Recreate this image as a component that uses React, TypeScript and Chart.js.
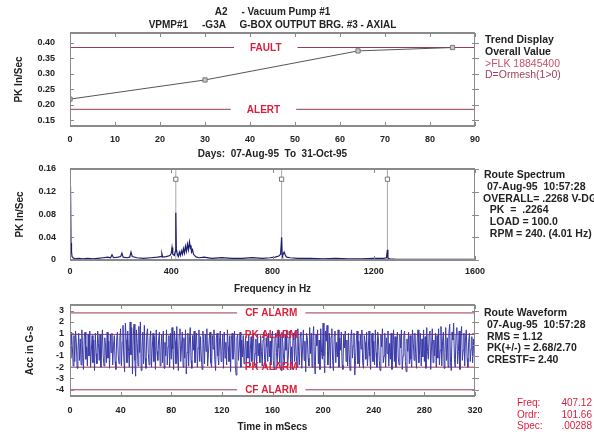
import React, { useEffect, useRef } from "react";
import { Chart, registerables } from "chart.js";

Chart.register(...registerables);

// ---------- Panel 1: trend ----------
const trendDays = [0, 30, 64, 85];
const trendValues = [0.218, 0.28, 0.374, 0.385];
const trendFault = 0.385;
const trendAlert = 0.185;
const trendXTicks = [0, 10, 20, 30, 40, 50, 60, 70, 80, 90];
const trendYTicks = [0.15, 0.2, 0.25, 0.3, 0.35, 0.4];

// ---------- Panel 2: spectrum ----------
const specFreq = [
  0, 2, 4, 6, 8, 12, 20, 35, 50, 70, 90, 110, 130, 150, 160, 166, 172, 190, 200, 205,
  210, 225, 236, 241, 246, 265, 290, 320, 345, 360, 363, 366, 380, 395, 400, 403, 406, 412, 416, 418,
  420, 424, 428, 432, 436, 440, 444, 448, 452, 456, 460, 464, 468, 472, 476, 478, 480, 484, 488, 492,
  496, 500, 510, 530, 560, 600, 640, 680, 720, 760, 790, 810, 825, 832, 836, 838, 840, 846, 852, 856,
  870, 900, 950, 1000, 1050, 1100, 1150, 1200, 1240, 1250, 1254, 1256, 1258, 1262, 1290, 1350, 1400, 1450, 1500, 1550,
  1600,
];
const specAmp = [
  0.02, 0.13, 0.03, 0.015, 0.006, 0.004, 0.002, 0.003, 0.002, 0.003, 0.002, 0.003, 0.004, 0.005, 0.004, 0.009, 0.004, 0.005, 0.006, 0.012,
  0.005, 0.004, 0.005, 0.014, 0.006, 0.004, 0.003, 0.004, 0.005, 0.006, 0.011, 0.005, 0.006, 0.008, 0.012, 0.022, 0.01, 0.008, 0.015, 0.083,
  0.02, 0.01, 0.006, 0.014, 0.008, 0.016, 0.01, 0.02, 0.012, 0.024, 0.015, 0.028, 0.018, 0.032, 0.02, 0.026, 0.014, 0.018, 0.01, 0.008,
  0.006, 0.005, 0.004, 0.005, 0.003, 0.004, 0.003, 0.003, 0.004, 0.003, 0.004, 0.005, 0.007, 0.01, 0.04, 0.012, 0.008, 0.014, 0.007, 0.005,
  0.004, 0.003, 0.003, 0.002, 0.003, 0.002, 0.002, 0.003, 0.003, 0.004, 0.018, 0.004, 0.003, 0.002, 0.001, 0.001, 0.001, 0.001, 0.001, 0.001,
  0.001,
];
const harmFreq = [418, 836, 1254];
const harmMarkerLevel = 0.142;
const specXTicks = [0, 400, 800, 1200, 1600];
const specYTicks = [0, 0.04, 0.08, 0.12, 0.16];

// ---------- Panel 3: waveform (sample every 0.625 ms) ----------
const waveStepMs = 0.625;
const waveValues = [
  0.6, -1.2, 1.1, -0.3, -1.9, 0.8, -1.5, 1.2, 0.2, -2.1, -0.6, 1.0, -1.4, 0.5, -1.8, 1.3,
  -0.9, -2.2, 0.7, 1.1, -1.3, -0.2, -1.9, 0.9, -1.0, 1.2, -2.0, -0.5, 0.8, -1.6, 0.4, -2.3,
  1.0, -0.8, -1.7, 1.2, 0.1, -1.4, 0.9, -2.0, -0.4, 1.3, -1.1, -1.9, 0.6, -0.2, -1.6, 1.1,
  -1.2, 0.3, -2.1, 0.9, -0.7, 1.0, -1.8, -0.1, 0.8, -1.5, -2.2, 0.5, 1.1, -1.0, -1.7, 0.6,
  1.4, -1.9, 0.2, 1.7, -1.2, -2.4, 1.9, 0.4, -1.6, 1.2, -0.6, -2.0, 2.0, -0.9, 1.5, -2.6,
  0.8, 1.8, -1.4, -2.8, 1.3, 0.1, -1.9, 1.6, -0.7, 2.0, -2.3, -0.4, 1.1, -1.7, 1.7, -1.2,
  -2.1, 0.9, 1.4, -0.8, -1.8, 0.5, 1.2, -2.0, -0.3, 1.0, -1.5, 0.7, -2.2, 1.3, -0.6, -1.4,
  0.4, 1.1, -1.9, -0.5, 0.9, -1.6, 1.2, -2.1, 0.2, -1.0, 1.3, -1.8, -0.2, 0.8, -2.0, 1.0,
  -1.3, 1.5, -0.4, -2.2, 1.2, 0.3, -1.7, 1.6, -1.0, -2.3, 0.9, 1.4, -1.5, -0.1, 1.1, -2.0,
  0.6, -1.2, 1.3, -2.6, -0.7, 1.0, -1.9, 0.4, 1.5, -1.4, -2.1, 0.8, -0.5, 1.2, -1.6, 0.2,
  1.0, -2.0, -0.3, 1.3, -1.5, 0.7, -1.1, -2.2, 1.2, 0.1, -1.7, 0.9, -0.6, 1.4, -1.9, -0.8,
  0.5, 1.1, -1.6, -2.0, 0.8, -0.4, 1.3, -1.3, -2.3, 0.6, 1.0, -1.0, -1.8, 0.3, 1.2, -1.5,
  -0.6, 0.9, -2.1, 1.1, -1.2, 0.2, -1.8, 1.3, -0.2, -1.5, 0.8, -2.4, 0.5, 1.0, -1.3, -0.7,
  1.2, -1.9, -2.7, 0.6, 0.9, -1.4, -0.3, 1.1, -2.0, 0.4, -1.1, 0.8, -1.7, -0.5, 0.7, -1.6,
  0.3, -1.2, 0.9, -2.0, -0.4, 0.7, -1.5, 0.2, 1.0, -1.8, -0.8, 0.5, -2.1, 0.9, -1.0, 0.1,
  -1.6, 0.8, -0.6, -1.9, 0.4, 1.1, -1.3, -2.0, 0.6, -0.2, -1.5, 1.0, -1.1, 0.3, -1.8, 0.7,
  1.2, -1.4, -2.2, 0.5, 1.0, -0.7, -1.9, 1.3, -0.3, -1.6, 0.8, -2.3, 1.1, 0.2, -1.2, -1.8,
  0.9, -0.5, 1.3, -2.0, -1.1, 0.6, 1.2, -1.7, -0.2, -2.2, 1.0, 0.4, -1.5, 1.2, -0.9, -2.0,
  1.4, -0.6, -1.8, 0.8, 1.1, -2.1, -0.4, 1.3, -1.4, 0.3, -2.4, 1.0, 0.6, -1.2, -1.9, 1.5,
  -0.8, 1.0, -2.0, 0.5, 1.6, -1.5, -2.6, 0.9, -0.1, 1.3, -1.7, 0.4, -2.2, 1.4, -0.7, -1.3,
  1.9, -1.0, -2.5, 1.2, 0.3, 1.7, -1.8, -0.6, 1.0, -2.1, 0.7, 1.4, -1.4, -2.3, 0.8, 1.2,
  -1.6, 0.2, -1.1, 1.3, -2.0, 0.6, -0.5, 1.1, -1.8, -2.2, 0.9, -0.3, 1.2, -1.5, 0.4, -1.9,
  1.0, -0.9, -2.3, 0.7, 1.3, -1.2, -0.1, 1.0, -2.7, -1.4, 0.5, 1.2, -1.7, 0.3, -2.0, 0.9,
  -0.4, 1.3, -1.6, -2.1, 0.8, 0.2, -1.3, 1.1, -1.9, -0.6, 1.2, -1.0, -2.2, 0.6, 1.0, -1.5,
  0.3, -1.8, 1.3, -0.7, -2.0, 1.1, 0.4, -1.4, -2.3, 0.9, -0.2, 1.4, -1.6, -1.0, 1.0, -2.0,
  0.6, -0.8, 1.2, -1.9, 0.1, -1.3, 1.0, -2.2, -0.5, 1.3, -1.5, 0.7, -2.0, 0.4, 1.1, -1.2,
  -1.8, 0.9, -0.3, 1.3, -2.2, -1.0, 0.8, 1.2, -1.5, -2.4, 0.5, -0.6, 1.1, -1.7, 0.8, -1.3,
  -2.0, 1.3, 0.2, -1.4, 1.0, -0.8, -2.1, 0.6, 1.3, -1.6, -0.4, 1.0, -1.9, 0.5, -1.1, 1.3,
  -1.5, 0.7, -2.1, 1.5, -0.6, -1.3, 0.9, 1.2, -2.2, -0.2, 1.4, -1.6, 0.4, -1.0, 1.0, -2.0,
  0.8, -1.2, 1.4, -1.8, -0.5, 1.6, -1.9, 0.3, 1.1, -2.1, -0.7, 1.5, -1.4, 0.6, -2.0, 1.0,
  1.8, -1.6, -2.3, 1.1, 0.4, 1.9, -1.3, -2.0, 0.9, 1.5, -1.7, -0.6, 1.2, -2.2, 0.7, 1.6,
  -1.4, -0.5, 1.0, -1.9, 0.6, 1.3, -1.2, -2.0, 0.3, 1.0, -1.5, -0.4, 0.7, -1.6, 0.5, -1.0,
];
const waveCfHigh = 2.8;
const wavePkHigh = 0.9;
const wavePkLow = -2.0;
const waveCfLow = -4.0;
const waveXTicks = [0, 40, 80, 120, 160, 200, 240, 280, 320];
const waveYTicks = [3, 2, 1, 0, -1, -2, -3, -4];

// ---------- Text ----------
const titleLines = ["A2     - Vacuum Pump #1", "VPMP#1     -G3A     G-BOX OUTPUT BRG. #3 - AXIAL"];
const trendNotes = ["Trend Display", "Overall Value"];
const trendNotesRed = [">FLK 18845400", "D=Ormesh(1>0)"];
const specNotes = ["Route Spectrum", " 07-Aug-95  10:57:28", "OVERALL= .2268 V-DG", "  PK  =  .2264", "  LOAD = 100.0", "  RPM = 240. (4.01 Hz)"];
const waveNotes = ["Route Waveform", " 07-Aug-95  10:57:28", " RMS = 1.12", " PK(+/-) = 2.68/2.70", " CRESTF= 2.40"];
const cursorLabels = ["Freq:", "Ordr:", "Spec:"];
const cursorValues = ["407.12", "101.66", ".00288"];

const FONT = "'Liberation Sans', Arial, sans-serif";
const TEXT = "#222";
const RED = "#dc1e3c";
const ALARM_LINE = "#9a3a4a";

const framePlugin = {
  id: "frame",
  afterDatasetsDraw(chart: any) {
    const { ctx, chartArea: a, scales } = chart;
    ctx.save();
    ctx.strokeStyle = "#8a8a8a";
    ctx.lineWidth = 2;
    ctx.beginPath();
    ctx.moveTo(a.left, a.top);
    ctx.lineTo(a.right, a.top);
    ctx.moveTo(a.left, a.bottom);
    ctx.lineTo(a.right, a.bottom);
    ctx.stroke();
    ctx.lineWidth = 1;
    ctx.beginPath();
    ctx.moveTo(a.left + 0.5, a.top);
    ctx.lineTo(a.left + 0.5, a.bottom);
    ctx.moveTo(a.right - 0.5, a.top);
    ctx.lineTo(a.right - 0.5, a.bottom);
    const t = 4;
    scales.x.ticks.forEach((tk: any) => {
      const px = Math.round(scales.x.getPixelForValue(tk.value)) + 0.5;
      ctx.moveTo(px, a.top);
      ctx.lineTo(px, a.top + t);
      ctx.moveTo(px, a.bottom);
      ctx.lineTo(px, a.bottom - t);
    });
    scales.y.ticks.forEach((tk: any) => {
      const py = Math.round(scales.y.getPixelForValue(tk.value)) + 0.5;
      ctx.moveTo(a.left, py);
      ctx.lineTo(a.left + t, py);
      ctx.moveTo(a.right - 3, py);
      ctx.lineTo(a.right + 4, py);
    });
    ctx.stroke();
    ctx.restore();
  },
};

const alarmLabelPlugin = {
  id: "alarmLabels",
  afterDatasetsDraw(chart: any, _args: any, opts: any) {
    const items = (opts && opts.items) || [];
    const { ctx, scales } = chart;
    ctx.save();
    ctx.font = `bold 10px ${FONT}`;
    ctx.textAlign = "center";
    ctx.textBaseline = "middle";
    items.forEach((it: any) => {
      const x = scales.x.getPixelForValue(it.x);
      const y = scales.y.getPixelForValue(it.y);
      const w = ctx.measureText(it.text).width;
      if (it.gap != null) {
        ctx.fillStyle = "#fff";
        ctx.fillRect(x - w / 2 - it.gap, y - 2, w + it.gap * 2, 4);
      }
      ctx.fillStyle = RED;
      ctx.fillText(it.text, x, y + 0.5);
    });
    ctx.restore();
  },
};

function hline(level: number, xmin: number, xmax: number) {
  return {
    data: [
      { x: xmin, y: level },
      { x: xmax, y: level },
    ],
    borderColor: ALARM_LINE,
    borderWidth: 1,
    pointRadius: 0,
    order: 5,
  };
}

function baseOptions(p: any) {
  return {
    responsive: false,
    animation: false,
    devicePixelRatio: 1,
    layout: { padding: { top: p.padTop, right: 119, left: 0, bottom: 0 } },
    plugins: {
      legend: { display: false },
      tooltip: { enabled: false },
      alarmLabels: { items: p.labels },
    },
    scales: {
      x: {
        type: "linear",
        min: p.xmin,
        max: p.xmax,
        grid: { display: false, drawTicks: false },
        border: { display: false },
        ticks: {
          font: { family: FONT, size: 9, weight: "bold" },
          color: TEXT,
          padding: p.xTickPad,
          maxRotation: 0,
          autoSkip: false,
          callback: (v: number) => String(v),
        },
        afterBuildTicks: (s: any) => {
          s.ticks = p.xTicks.map((v: number) => ({ value: v }));
        },
        afterFit: (s: any) => {
          s.height = p.xHeight;
          s.paddingLeft = 0;
          s.paddingRight = 0;
        },
        title: {
          display: true,
          text: p.xTitle,
          color: TEXT,
          font: { family: FONT, size: 10, weight: "bold" },
          padding: { top: 0, bottom: p.xTitlePad },
        },
      },
      y: {
        type: "linear",
        min: p.ymin,
        max: p.ymax,
        grid: { display: false, drawTicks: false },
        border: { display: false },
        ticks: {
          font: { family: FONT, size: 9, weight: "bold" },
          color: TEXT,
          padding: p.yTickPad,
          autoSkip: false,
          callback: p.yFmt,
        },
        afterBuildTicks: (s: any) => {
          s.ticks = p.yTicks.map((v: number) => ({ value: v }));
        },
        afterFit: (s: any) => {
          s.width = 70;
          s.paddingTop = 0;
          s.paddingBottom = 0;
        },
        title: {
          display: true,
          text: p.yTitle,
          color: TEXT,
          font: { family: FONT, size: 10, weight: "bold" },
          padding: { top: p.yTitlePad, bottom: 0 },
        },
      },
    },
  };
}

function trendConfig(): any {
  return {
    type: "line",
    data: {
      datasets: [
        {
          data: trendDays.map((d, i) => ({ x: d, y: trendValues[i] })),
          borderColor: "#555",
          borderWidth: 1,
          pointStyle: "rect",
          pointRadius: 3,
          pointBackgroundColor: "#c8c8c8",
          pointBorderColor: "#777",
          pointBorderWidth: 1,
          order: 1,
        },
        hline(trendFault, 0, 90),
        hline(trendAlert, 0, 90),
      ],
    },
    options: baseOptions({
      padTop: 33,
      xmin: 0,
      xmax: 90,
      xTicks: trendXTicks,
      xHeight: 34,
      xTickPad: 8,
      xTitle: "Days:  07-Aug-95  To  31-Oct-95",
      xTitlePad: 0,
      ymin: 0.131,
      ymax: 0.432,
      yTicks: trendYTicks,
      yTickPad: 15,
      yFmt: (v: number) => v.toFixed(2),
      yTitle: "PK In/Sec",
      yTitlePad: 13,
      labels: [
        { x: 43.5, y: trendFault, text: "FAULT", gap: 16 },
        { x: 43.0, y: trendAlert, text: "ALERT", gap: 16 },
      ],
    }),
    plugins: [framePlugin, alarmLabelPlugin],
  };
}

function specConfig(): any {
  const harmLines = harmFreq.map((f) => ({
    data: [
      { x: f, y: 0 },
      { x: f, y: 0.16 },
    ],
    borderColor: "#a8a8a8",
    borderWidth: 1,
    pointRadius: 0,
    order: 5,
  }));
  return {
    type: "line",
    data: {
      datasets: [
        {
          data: specFreq.map((f, i) => ({ x: f, y: specAmp[i] })),
          borderColor: "#1c1c70",
          borderWidth: 1.2,
          pointRadius: 0,
          order: 1,
        },
        {
          data: harmFreq.map((f) => ({ x: f, y: harmMarkerLevel })),
          showLine: false,
          pointStyle: "rect",
          pointRadius: 3,
          pointBackgroundColor: "#fff",
          pointBorderColor: "#777",
          pointBorderWidth: 1,
          order: 0,
        },
        ...harmLines,
      ],
    },
    options: baseOptions({
      padTop: 9,
      xmin: 0,
      xmax: 1600,
      xTicks: specXTicks,
      xHeight: 40,
      xTickPad: 6,
      xTitle: "Frequency in Hz",
      xTitlePad: 5,
      ymin: 0,
      ymax: 0.16,
      yTicks: specYTicks,
      yTickPad: 14,
      yFmt: (v: number) => (v === 0 ? "0" : v.toFixed(2)),
      yTitle: "PK In/Sec",
      yTitlePad: 14,
      labels: [],
    }),
    plugins: [framePlugin, alarmLabelPlugin],
  };
}

function waveConfig(): any {
  const xmax = 320;
  return {
    type: "line",
    data: {
      datasets: [
        {
          data: waveValues.map((v, i) => ({ x: i * waveStepMs, y: v })),
          borderColor: "#3a3aa8",
          borderWidth: 1,
          pointRadius: 0,
          order: 1,
        },
        hline(waveCfHigh, 0, xmax),
        hline(wavePkHigh, 0, xmax),
        hline(wavePkLow, 0, xmax),
        hline(waveCfLow, 0, xmax),
      ],
    },
    options: baseOptions({
      padTop: 5,
      xmin: 0,
      xmax: xmax,
      xTicks: waveXTicks,
      xHeight: 40,
      xTickPad: 9,
      xTitle: "Time in mSecs",
      xTitlePad: 3,
      ymin: -4.55,
      ymax: 3.5,
      yTicks: waveYTicks,
      yTickPad: 6,
      yFmt: (v: number) => String(v),
      yTitle: "Acc in G-s",
      yTitlePad: 24,
      labels: [
        { x: 159, y: waveCfHigh, text: "CF ALARM", gap: 8 },
        { x: 159, y: wavePkHigh, text: "PK ALARM" },
        { x: 159, y: wavePkLow, text: "PK ALARM" },
        { x: 159, y: waveCfLow, text: "CF ALARM", gap: 8 },
      ],
    }),
    plugins: [framePlugin, alarmLabelPlugin],
  };
}

function Panel({ top, height, make }: { top: number; height: number; make: () => any }) {
  const ref = useRef<HTMLCanvasElement | null>(null);
  useEffect(() => {
    if (!ref.current) return;
    const chart = new Chart(ref.current, make());
    return () => chart.destroy();
  }, []);
  return (
    <canvas
      ref={ref}
      width={594}
      height={height}
      style={{ position: "absolute", left: 0, top, width: 594, height }}
    />
  );
}

const textStyle: React.CSSProperties = {
  position: "absolute",
  fontFamily: FONT,
  fontWeight: "bold",
  fontSize: 10.5,
  lineHeight: "11.8px",
  whiteSpace: "pre",
  color: TEXT,
};

export default function App() {
  return (
    <div style={{ position: "absolute", left: 0, top: 0, width: 594, height: 436, background: "#fff", overflow: "hidden" }}>
      <Panel top={0} height={160} make={trendConfig} />
      <Panel top={160} height={140} make={specConfig} />
      <Panel top={300} height={136} make={waveConfig} />

      <div style={{ ...textStyle, left: 70, width: 405, top: 5, textAlign: "center", fontSize: 10, lineHeight: "13px" }}>
        {titleLines.map((l, i) => (
          <div key={i}>{l}</div>
        ))}
      </div>

      <div style={{ ...textStyle, left: 485, top: 34 }}>
        {trendNotes.map((l, i) => (
          <div key={i}>{l}</div>
        ))}
        <div style={{ color: "#c8506a", fontWeight: "normal" }}>{trendNotesRed[0]}</div>
        <div style={{ color: "#a0405e", fontWeight: "normal" }}>{trendNotesRed[1]}</div>
      </div>

      <div style={{ ...textStyle, left: 484, top: 169 }}>
        {specNotes.map((l, i) => (
          <div key={i} style={i === 2 ? { marginLeft: -1 } : undefined}>{l}</div>
        ))}
      </div>

      <div style={{ ...textStyle, left: 484, top: 307 }}>
        {waveNotes.map((l, i) => (
          <div key={i}>{l}</div>
        ))}
      </div>

      <div style={{ ...textStyle, left: 517, top: 397, width: 75, color: RED, fontWeight: "normal", fontSize: 10, lineHeight: "11.5px" }}>
        {cursorLabels.map((l, i) => (
          <div key={i} style={{ display: "flex", justifyContent: "space-between" }}>
            <span>{l}</span>
            <span>{cursorValues[i]}</span>
          </div>
        ))}
      </div>
    </div>
  );
}
